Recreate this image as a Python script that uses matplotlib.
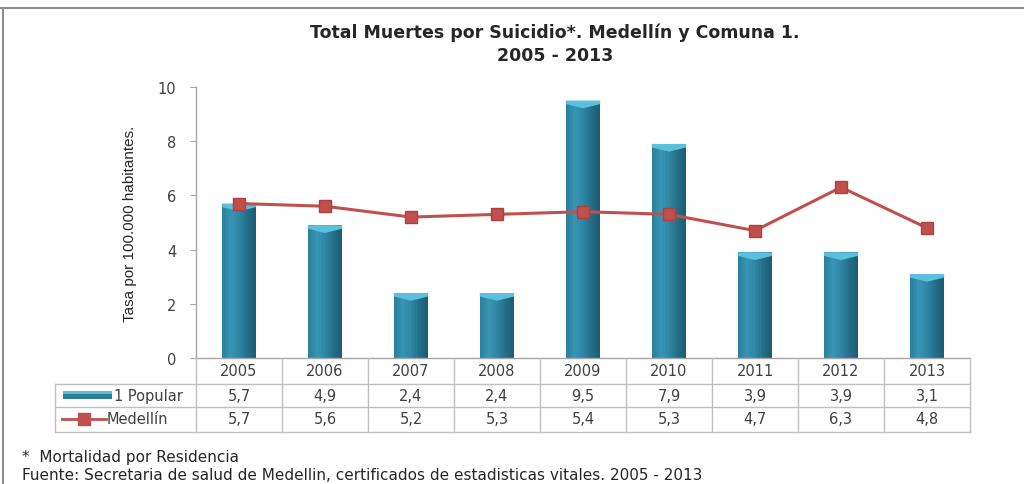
import matplotlib
matplotlib.use("Agg")
import matplotlib.pyplot as plt
import numpy as np
from matplotlib.colors import LinearSegmentedColormap
from matplotlib.lines import Line2D
from matplotlib.patches import Rectangle, Polygon
from matplotlib.transforms import blended_transform_factory

# --- datos ---
anios = ["2005", "2006", "2007", "2008", "2009", "2010", "2011", "2012", "2013"]
popular = [5.7, 4.9, 2.4, 2.4, 9.5, 7.9, 3.9, 3.9, 3.1]
medellin = [5.7, 5.6, 5.2, 5.3, 5.4, 5.3, 4.7, 6.3, 4.8]
series = ["1 Popular", "Medellín"]

W, H = 1024, 485
fig = plt.figure(figsize=(W / 100, H / 100), dpi=100)
fig.patch.set_facecolor("white")


def fx(px):
    return px / W


def fy(py):
    return 1 - py / H


ax = fig.add_axes([fx(196), fy(359), fx(970) - fx(196), fy(88) - fy(359)])
x = np.arange(len(anios))
ancho = 0.4

# barras tipo cilindro: franjas verticales con degradado
degradado = LinearSegmentedColormap.from_list(
    "cil", ["#2c7f9b", "#3796b4", "#2f87a4", "#246f8a", "#1d5c73"])
n_franjas = 24
dw = ancho / n_franjas
for k in range(n_franjas):
    off = -ancho / 2 + (k + 0.5) * dw
    ax.bar(x + off, popular, width=dw * 1.02, color=degradado(k / (n_franjas - 1)),
           linewidth=0, zorder=2)

# tapa superior más clara
d = 0.13
for xi, h in zip(x, popular):
    tapa = Polygon([(xi - ancho / 2, h), (xi + ancho / 2, h),
                    (xi + ancho / 2, h - d), (xi, h - 2.2 * d),
                    (xi - ancho / 2, h - d)],
                   closed=True, facecolor="#5cbfdc", edgecolor="none", zorder=3)
    ax.add_patch(tapa)

rojo = "#c0504d"
ax.plot(x, medellin, color=rojo, lw=2.2, marker="s", markersize=9,
        markerfacecolor=rojo, markeredgecolor="#b0403d", zorder=4)

ax.set_xlim(-0.5, len(anios) - 0.5)
ax.set_ylim(0, 10)
ax.set_yticks(range(0, 11, 2))
ax.set_xticks([])
ax.tick_params(axis="y", length=4, color="#a6a6a6", labelsize=10.5,
               labelcolor="#404040", pad=10)
for s in ["top", "right"]:
    ax.spines[s].set_visible(False)
for s in ["left", "bottom"]:
    ax.spines[s].set_color("#a6a6a6")
    ax.spines[s].set_linewidth(1)

ax.set_ylabel("Tasa por 100.000 habitantes.", fontsize=11,
              family=["Liberation Sans Narrow", "Liberation Sans"], labelpad=15,
              color="#262626")

# --- tabla de datos bajo el eje ---
tr = blended_transform_factory(ax.transData, fig.transFigure)
gris = "#bfbfbf"
y_top, y_r1, y_r2, y_bot = fy(359), fy(385), fy(408), fy(433)
for yy in [y_r1, y_r2, y_bot]:
    fig.add_artist(Line2D([fx(55), fx(970)], [yy, yy], color=gris, lw=1))
for i in range(len(anios) + 1):
    fig.add_artist(Line2D([i - 0.5, i - 0.5], [y_top, y_bot], color=gris, lw=1,
                          transform=tr))
fig.add_artist(Line2D([fx(55), fx(55)], [y_r1, y_bot], color=gris, lw=1))

fuente_tabla = dict(fontsize=10.5, color="#404040", ha="center", va="center")
for i, a in enumerate(anios):
    fig.text(i, fy(372), a, transform=tr, **fuente_tabla)
    fig.text(i, fy(397), f"{popular[i]:.1f}".replace(".", ","), transform=tr,
             **fuente_tabla)
    fig.text(i, fy(420), f"{medellin[i]:.1f}".replace(".", ","), transform=tr,
             **fuente_tabla)

# leyenda dentro de la tabla
fig.add_artist(Rectangle((fx(63), fy(400)), fx(112) - fx(63), fy(392) - fy(400),
                         facecolor="#2c7f9b", edgecolor="none"))
fig.add_artist(Rectangle((fx(63), fy(395)), fx(112) - fx(63), fy(392) - fy(395),
                         facecolor="#5cbfdc", edgecolor="none"))
fig.text(fx(114), fy(397), series[0], fontsize=10.5, color="#404040", va="center")
fig.add_artist(Line2D([fx(62), fx(106)], [fy(420), fy(420)], color=rojo, lw=2))
fig.add_artist(Line2D([fx(84)], [fy(420)], color=rojo, marker="s", markersize=8))
fig.text(fx(107), fy(420), series[1], fontsize=10.5, color="#404040", va="center")

# título y notas
fig.text(fx(555), fy(33), "Total Muertes por Suicidio*. Medellín y Comuna 1.",
         fontsize=12.5, weight="bold", ha="center", va="center", color="#262626")
fig.text(fx(555), fy(56), "2005 - 2013", fontsize=12.5, weight="bold",
         ha="center", va="center", color="#262626")
fig.text(fx(22), fy(458), "*  Mortalidad por Residencia", fontsize=11,
         color="#262626", va="center")
fig.text(fx(22), fy(476),
         "Fuente: Secretaria de salud de Medellin, certificados de estadisticas vitales. 2005 - 2013",
         fontsize=11, color="#262626", va="center")

# marco exterior
fig.add_artist(Line2D([0, 1], [fy(9), fy(9)], color="#8c8c8c", lw=1.5))
fig.add_artist(Line2D([fx(3), fx(3)], [fy(9), 0], color="#8c8c8c", lw=1.5))

fig.savefig("out.png", dpi=100)
